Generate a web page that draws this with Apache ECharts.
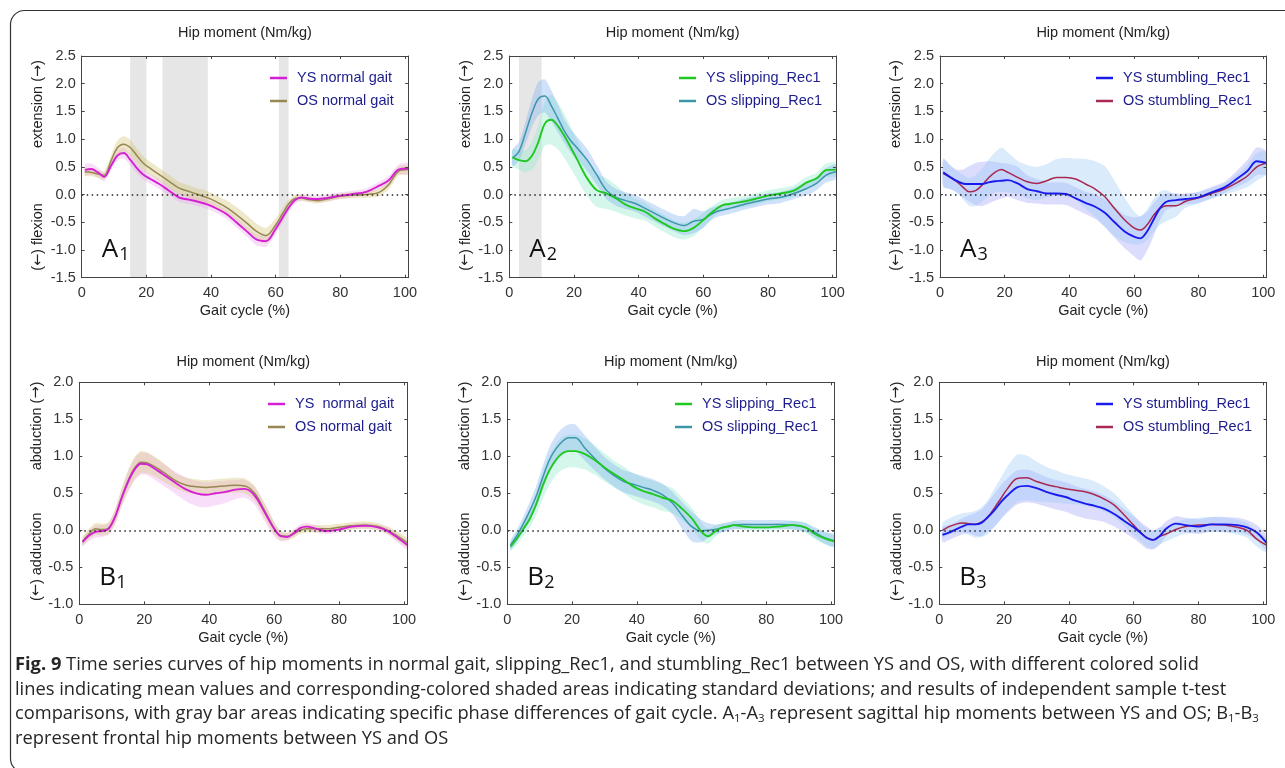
<!DOCTYPE html>
<html lang="en">
<head>
<meta charset="UTF-8">
<title>Hip moments</title>
<script src="https://cdn.jsdelivr.net/npm/echarts@6/dist/echarts.min.js"></script>
<style>
  body { margin: 0; background: #fff; }
  #main { width: 1285px; height: 768px; }
  #caption { position: absolute; left: 15px; top: 651px; font-family: "Open Sans"; font-size: 18.3px;
             line-height: 24.7px; color: #262626; white-space: nowrap; }
  #caption sub { font-size: 11.5px; line-height: 0; vertical-align: -3px; }
</style>
</head>
<body>
<div id="main"></div>
<div id="caption"><b>Fig. 9</b> Time series curves of hip moments in normal gait, slipping_Rec1, and stumbling_Rec1 between YS and OS, with different colored solid<br>lines indicating mean values and corresponding-colored shaded areas indicating standard deviations; and results of independent sample t-test<br>comparisons, with gray bar areas indicating specific phase differences of gait cycle. A<sub>1</sub>-A<sub>3</sub> represent sagittal hip moments between YS and OS; B<sub>1</sub>-B<sub>3</sub><br>represent frontal hip moments between YS and OS</div>
<script>
  // gait cycle sample points (%)
  var gait = [1,3,5,7,9,11,13,15,17,19,21,24,27,30,33,36,39,42,45,48,51,54,57,60,62,64,66,68,70,73,76,80,84,88,92,95,98,101];

  // A1 sagittal, normal gait
  var ysNormalSag   = [0.445,0.46,0.40,0.32,0.51,0.70,0.75,0.63,0.48,0.36,0.29,0.19,0.07,-0.05,-0.09,-0.13,-0.18,-0.26,-0.36,-0.51,-0.66,-0.81,-0.84,-0.62,-0.43,-0.24,-0.10,-0.05,-0.07,-0.08,-0.06,-0.02,0.01,0.05,0.16,0.26,0.45,0.47];
  var ysNormalSagSd = [0.1,0.1,0.09,0.08,0.08,0.09,0.1,0.1,0.09,0.09,0.09,0.09,0.08,0.08,0.08,0.08,0.08,0.08,0.08,0.09,0.09,0.1,0.1,0.1,0.09,0.08,0.07,0.06,0.06,0.06,0.06,0.06,0.06,0.06,0.07,0.08,0.09,0.1];
  var osNormalSag   = [0.41,0.40,0.37,0.35,0.60,0.84,0.91,0.85,0.71,0.57,0.48,0.36,0.24,0.12,0.06,0.00,-0.06,-0.14,-0.24,-0.37,-0.51,-0.66,-0.74,-0.55,-0.36,-0.17,-0.07,-0.06,-0.09,-0.11,-0.08,-0.03,-0.01,0.00,0.04,0.18,0.42,0.45];
  var osNormalSagSd = [0.07,0.07,0.07,0.07,0.1,0.13,0.14,0.14,0.13,0.12,0.12,0.12,0.12,0.11,0.11,0.11,0.12,0.12,0.13,0.14,0.14,0.14,0.14,0.12,0.1,0.08,0.06,0.05,0.05,0.05,0.05,0.05,0.05,0.06,0.07,0.08,0.08,0.08];

  // A2 sagittal, slipping_Rec1
  var ysSlipSag   = [0.67,0.62,0.60,0.70,0.95,1.28,1.35,1.24,1.06,0.85,0.63,0.30,0.08,0.02,-0.07,-0.18,-0.25,-0.31,-0.43,-0.53,-0.62,-0.66,-0.60,-0.46,-0.35,-0.26,-0.19,-0.17,-0.15,-0.12,-0.08,-0.02,0.02,0.07,0.22,0.29,0.44,0.45];
  var ysSlipSagSd = [0.15,0.17,0.2,0.25,0.32,0.4,0.45,0.42,0.4,0.38,0.36,0.32,0.3,0.28,0.24,0.2,0.18,0.16,0.15,0.15,0.15,0.15,0.15,0.13,0.12,0.1,0.1,0.1,0.1,0.1,0.1,0.1,0.1,0.1,0.1,0.1,0.12,0.12];
  var osSlipSag   = [0.66,0.78,1.11,1.47,1.73,1.78,1.60,1.38,1.15,0.97,0.84,0.63,0.36,0.08,-0.05,-0.11,-0.16,-0.25,-0.34,-0.43,-0.51,-0.56,-0.48,-0.45,-0.37,-0.31,-0.28,-0.25,-0.22,-0.17,-0.13,-0.08,-0.05,0.02,0.11,0.20,0.35,0.41];
  var osSlipSagSd = [0.15,0.17,0.2,0.25,0.3,0.3,0.28,0.25,0.22,0.21,0.2,0.2,0.18,0.16,0.15,0.15,0.15,0.15,0.15,0.15,0.15,0.17,0.22,0.15,0.12,0.1,0.1,0.1,0.1,0.1,0.1,0.1,0.1,0.1,0.12,0.12,0.13,0.13];

  // A3 sagittal, stumbling_Rec1
  var ysStumbSag   = [0.40,0.32,0.25,0.20,0.19,0.19,0.19,0.22,0.24,0.25,0.26,0.20,0.10,0.06,0.02,0.02,0.01,-0.07,-0.15,-0.22,-0.33,-0.50,-0.66,-0.76,-0.79,-0.67,-0.46,-0.25,-0.13,-0.10,-0.08,-0.05,0.04,0.13,0.29,0.42,0.60,0.57];
  var ysStumbSagSd = [0.25,0.22,0.2,0.25,0.32,0.38,0.4,0.38,0.35,0.32,0.3,0.3,0.25,0.22,0.2,0.2,0.2,0.2,0.2,0.22,0.25,0.28,0.3,0.35,0.4,0.35,0.3,0.22,0.15,0.12,0.1,0.1,0.1,0.1,0.15,0.2,0.25,0.2];
  var osStumbSag   = [0.38,0.32,0.24,0.14,0.05,0.07,0.17,0.30,0.40,0.45,0.40,0.31,0.23,0.20,0.25,0.31,0.31,0.28,0.19,0.10,-0.04,-0.25,-0.45,-0.60,-0.64,-0.55,-0.38,-0.25,-0.20,-0.20,-0.12,-0.06,0.02,0.10,0.22,0.33,0.50,0.57];
  var osStumbSagSd = [0.25,0.22,0.2,0.22,0.25,0.28,0.3,0.33,0.36,0.4,0.36,0.3,0.3,0.3,0.3,0.33,0.35,0.37,0.45,0.5,0.55,0.5,0.4,0.3,0.25,0.28,0.3,0.3,0.28,0.2,0.12,0.1,0.1,0.1,0.15,0.2,0.25,0.2];

  // B1 frontal, normal gait
  var ysNormalFro   = [-0.16,-0.07,-0.02,-0.01,0.02,0.18,0.43,0.65,0.82,0.90,0.89,0.81,0.72,0.63,0.55,0.50,0.48,0.50,0.52,0.55,0.56,0.47,0.25,0.02,-0.08,-0.09,-0.04,0.03,0.05,0.02,-0.01,0.01,0.05,0.06,0.04,-0.01,-0.10,-0.20];
  var ysNormalFroSd = [0.05,0.07,0.08,0.08,0.08,0.1,0.12,0.14,0.15,0.15,0.15,0.15,0.15,0.15,0.16,0.17,0.17,0.16,0.15,0.13,0.12,0.12,0.12,0.1,0.07,0.05,0.05,0.05,0.05,0.05,0.04,0.04,0.04,0.04,0.04,0.05,0.06,0.06];
  var osNormalFro   = [-0.15,-0.05,0.02,0.01,0.03,0.18,0.44,0.67,0.84,0.92,0.91,0.84,0.75,0.66,0.61,0.59,0.58,0.59,0.60,0.61,0.60,0.50,0.27,0.03,-0.07,-0.08,-0.05,0.00,0.02,0.02,0.02,0.04,0.06,0.07,0.05,0.00,-0.08,-0.17];
  var osNormalFroSd = [0.06,0.07,0.08,0.08,0.08,0.1,0.12,0.14,0.15,0.15,0.14,0.13,0.12,0.1,0.1,0.1,0.1,0.1,0.1,0.1,0.1,0.1,0.1,0.08,0.06,0.05,0.05,0.05,0.05,0.05,0.05,0.05,0.05,0.05,0.05,0.05,0.06,0.06];

  // B2 frontal, slipping_Rec1
  var ysSlipFro   = [-0.22,-0.11,0.02,0.16,0.36,0.61,0.81,0.95,1.04,1.07,1.07,1.03,0.95,0.85,0.76,0.68,0.59,0.53,0.49,0.44,0.40,0.29,0.16,-0.02,-0.08,-0.02,0.03,0.05,0.07,0.05,0.04,0.04,0.05,0.07,0.04,-0.05,-0.11,-0.15];
  var ysSlipFroSd = [0.06,0.08,0.1,0.12,0.15,0.18,0.2,0.21,0.22,0.22,0.22,0.21,0.2,0.19,0.18,0.18,0.18,0.18,0.18,0.18,0.17,0.15,0.14,0.12,0.1,0.08,0.06,0.05,0.05,0.05,0.05,0.05,0.05,0.06,0.07,0.07,0.08,0.08];
  var osSlipFro   = [-0.20,-0.07,0.09,0.27,0.47,0.72,0.95,1.10,1.20,1.25,1.25,1.11,0.97,0.84,0.74,0.66,0.62,0.58,0.54,0.48,0.37,0.20,0.05,-0.01,0.00,0.01,0.03,0.05,0.07,0.08,0.08,0.08,0.08,0.07,0.04,-0.03,-0.10,-0.14];
  var osSlipFroSd = [0.06,0.08,0.1,0.12,0.14,0.16,0.17,0.18,0.18,0.18,0.18,0.17,0.16,0.15,0.15,0.15,0.15,0.15,0.15,0.15,0.15,0.18,0.2,0.15,0.1,0.07,0.06,0.06,0.06,0.06,0.06,0.06,0.06,0.06,0.06,0.07,0.08,0.08];

  // B3 frontal, stumbling_Rec1
  var ysStumbFro   = [-0.06,-0.03,0.01,0.05,0.08,0.08,0.10,0.18,0.27,0.38,0.47,0.58,0.60,0.57,0.52,0.48,0.45,0.40,0.36,0.33,0.29,0.22,0.13,0.04,-0.03,-0.10,-0.13,-0.08,0.02,0.09,0.07,0.05,0.08,0.08,0.07,0.04,-0.03,-0.17];
  var ysStumbFroSd = [0.1,0.1,0.1,0.11,0.12,0.15,0.18,0.2,0.22,0.23,0.23,0.23,0.22,0.21,0.2,0.2,0.2,0.2,0.2,0.19,0.18,0.17,0.16,0.15,0.15,0.15,0.13,0.12,0.1,0.1,0.1,0.1,0.1,0.1,0.1,0.1,0.1,0.1];
  var osStumbFro   = [0.00,0.05,0.08,0.10,0.09,0.08,0.11,0.18,0.30,0.43,0.56,0.70,0.71,0.66,0.62,0.59,0.56,0.54,0.52,0.48,0.42,0.34,0.21,0.07,-0.02,-0.10,-0.13,-0.08,-0.05,0.01,0.05,0.07,0.08,0.07,0.04,0.00,-0.12,-0.20];
  var osStumbFroSd = [0.1,0.11,0.12,0.13,0.15,0.18,0.2,0.23,0.26,0.28,0.3,0.32,0.3,0.27,0.24,0.22,0.2,0.19,0.18,0.18,0.17,0.16,0.15,0.14,0.12,0.12,0.12,0.11,0.1,0.1,0.1,0.1,0.1,0.1,0.1,0.1,0.1,0.1];

  // significant phase differences (t-test), gray bars
  var sigA1 = [[15, 20], [25, 39], [61, 64]];
  var sigA2 = [[3, 10]];

  var font = 'Liberation Sans';
  var axisColor = '#444';

  var panels = [
    {left: 81.7, top: 56, width: 326.5, height: 221.7, ymin: -1.5, ymax: 2.5, up: 'extension ({a|\u2192})', down: '({a|\u2190}) flexion',
     letter: 'A', sub: '1', sig: sigA1, leg: [270, 70.5],
     ys: {name: 'YS normal gait', m: ysNormalSag, sd: ysNormalSagSd, c: '#d41fd4', band: 'rgba(236,160,236,0.35)'},
     os: {name: 'OS normal gait', m: osNormalSag, sd: osNormalSagSd, c: '#978852', band: 'rgba(212,196,120,0.38)'}},
    {left: 509.3, top: 56, width: 326.6, height: 221.7, ymin: -1.5, ymax: 2.5, up: 'extension ({a|\u2192})', down: '({a|\u2190}) flexion',
     letter: 'A', sub: '2', sig: sigA2, leg: [679, 70.5],
     ys: {name: 'YS slipping_Rec1', m: ysSlipSag, sd: ysSlipSagSd, c: '#1ec81e', band: 'rgba(150,236,205,0.4)'},
     os: {name: 'OS slipping_Rec1', m: osSlipSag, sd: osSlipSagSd, c: '#3b96aa', band: 'rgba(120,168,240,0.35)'}},
    {left: 940, top: 56, width: 326.5, height: 221.7, ymin: -1.5, ymax: 2.5, up: 'extension ({a|\u2192})', down: '({a|\u2190}) flexion',
     letter: 'A', sub: '3', sig: [], leg: [1096, 70.5],
     ys: {name: 'YS stumbling_Rec1', m: ysStumbSag, sd: ysStumbSagSd, c: '#1a1aee', band: 'rgba(130,130,245,0.28)'},
     os: {name: 'OS stumbling_Rec1', m: osStumbSag, sd: osStumbSagSd, c: '#a8284f', band: 'rgba(150,200,245,0.35)'}},
    {left: 79.3, top: 382.3, width: 328, height: 222, ymin: -1, ymax: 2, up: 'abduction ({a|\u2192})', down: '({a|\u2190}) adduction',
     letter: 'B', sub: '1', sig: [], leg: [268, 396.5],
     ys: {name: 'YS  normal gait', m: ysNormalFro, sd: ysNormalFroSd, c: '#d41fd4', band: 'rgba(236,160,236,0.35)'},
     os: {name: 'OS normal gait ', m: osNormalFro, sd: osNormalFroSd, c: '#978852', band: 'rgba(212,196,120,0.38)'}},
    {left: 507.3, top: 382.3, width: 327, height: 222, ymin: -1, ymax: 2, up: 'abduction ({a|\u2192})', down: '({a|\u2190}) adduction',
     letter: 'B', sub: '2', sig: [], leg: [675, 396.5],
     ys: {name: 'YS slipping_Rec1 ', m: ysSlipFro, sd: ysSlipFroSd, c: '#1ec81e', band: 'rgba(150,236,205,0.4)'},
     os: {name: 'OS slipping_Rec1 ', m: osSlipFro, sd: osSlipFroSd, c: '#3b96aa', band: 'rgba(120,168,240,0.35)'}},
    {left: 939.3, top: 382.3, width: 327.2, height: 222, ymin: -1, ymax: 2, up: 'abduction ({a|\u2192})', down: '({a|\u2190}) adduction',
     letter: 'B', sub: '3', sig: [], leg: [1096, 396.5],
     ys: {name: 'YS stumbling_Rec1 ', m: ysStumbFro, sd: ysStumbFroSd, c: '#1a1aee', band: 'rgba(130,130,245,0.28)'},
     os: {name: 'OS stumbling_Rec1 ', m: osStumbFro, sd: osStumbFroSd, c: '#a8284f', band: 'rgba(150,200,245,0.35)'}}
  ];

  var grids = [], xAxes = [], yAxes = [], series = [], legends = [], graphics = [];

  function lineOf(m) {
    return gait.map(function (x, i) { return [x, m[i]]; });
  }

  function band(p, s) {
    return {
      type: 'custom', name: 'band' + p + s.name, xAxisIndex: 2 * p, yAxisIndex: 2 * p,
      silent: true, clip: true, z: 2, animation: false,
      data: gait.map(function (x, i) { return [x, s.m[i] - s.sd[i], s.m[i] + s.sd[i]]; }),
      encode: {x: 0, y: [1, 2]},
      renderItem: function (params, api) {
        if (params.dataIndex !== 0) return null;
        var up = [], lo = [];
        for (var i = 0; i < gait.length; i++) {
          up.push(api.coord([gait[i], s.m[i] + s.sd[i]]));
          lo.unshift(api.coord([gait[i], s.m[i] - s.sd[i]]));
        }
        return {type: 'polygon', shape: {points: up.concat(lo), smooth: 0.25}, style: {fill: s.band}};
      }
    };
  }

  panels.forEach(function (pn, p) {
    grids.push({left: pn.left, top: pn.top, width: pn.width, height: pn.height});

    var xBase = {
      gridIndex: p, type: 'value', min: 0, max: 101, interval: 20, z: 5,
      splitLine: {show: false},
      axisLine: {show: true, onZero: false, lineStyle: {color: axisColor, width: 1}},
      axisTick: {show: true, inside: true, length: 3, lineStyle: {color: axisColor}}
    };
    xAxes.push(Object.assign({}, xBase, {
      position: 'bottom',
      axisLabel: {margin: 8, fontSize: 14.5, color: '#333', fontFamily: font,
        formatter: function (v) { return v % 20 === 0 ? String(v) : ''; }},
      name: 'Gait cycle (%)', nameLocation: 'middle', nameGap: 26,
      nameTextStyle: {fontSize: 14.5, color: '#222', fontFamily: font}
    }));
    xAxes.push(Object.assign({}, xBase, {position: 'top', axisLabel: {show: false}}));

    var yBase = {
      gridIndex: p, type: 'value', min: pn.ymin, max: pn.ymax, interval: 0.5, z: 5,
      splitLine: {show: false},
      axisLine: {show: true, onZero: false, lineStyle: {color: axisColor, width: 1}},
      axisTick: {show: true, inside: true, length: 3, lineStyle: {color: axisColor}}
    };
    yAxes.push(Object.assign({}, yBase, {
      position: 'left',
      axisLabel: {margin: 6, fontSize: 14.5, color: '#333', fontFamily: font,
        formatter: function (v) { return v.toFixed(1); }}
    }));
    yAxes.push(Object.assign({}, yBase, {position: 'right', axisLabel: {show: false}}));

    // gray bars for significant phases
    series.push({
      type: 'line', name: 'sig' + p, xAxisIndex: 2 * p, yAxisIndex: 2 * p, z: 1,
      data: lineOf(pn.ys.m), symbol: 'none', lineStyle: {opacity: 0}, silent: true,
      markArea: {
        silent: true, itemStyle: {color: '#e6e6e6'},
        data: pn.sig.map(function (r) { return [{xAxis: r[0]}, {xAxis: r[1]}]; })
      }
    });

    series.push(band(p, pn.ys));
    series.push(band(p, pn.os));

    [pn.os, pn.ys].forEach(function (s, k) {
      var ser = {
        type: 'line', name: s.name, xAxisIndex: 2 * p, yAxisIndex: 2 * p, z: 3 + k,
        data: lineOf(s.m), smooth: 0.35, symbol: 'none', color: s.c,
        lineStyle: {color: s.c, width: k === 1 ? 1.9 : 1.5}
      };
      if (k === 1) {
        ser.markLine = {
          silent: true, symbol: 'none', label: {show: false}, animation: false,
          lineStyle: {type: [1.5, 3.5], color: '#222', width: 1.5},
          data: [{yAxis: 0}]
        };
      }
      series.push(ser);
    });

    legends.push({
      orient: 'vertical', left: pn.leg[0], top: pn.leg[1], padding: 0,
      itemWidth: 17, itemHeight: 2.5, itemGap: 8, icon: 'rect', selectedMode: false,
      textStyle: {fontSize: 14.5, color: '#1c1c8c', fontFamily: font, padding: [0, 0, 0, 5]},
      data: [pn.ys.name, pn.os.name]
    });

    var cx = pn.left + pn.width / 2;
    var row = pn.top < 200 ? 0 : 1;
    graphics.push({type: 'text', x: cx, y: row ? 361.7 : 33, z: 10,
      style: {text: 'Hip moment (Nm/kg)', font: '14.5px "' + font + '"', fill: '#222', align: 'center', verticalAlign: 'middle'}});

    var nx = pn.left - (row ? 42.6 : 43.7);
    var arrowRich = {a: {fontFamily: 'DejaVu Sans', fontSize: 14.5, fill: '#222'}};
    graphics.push({type: 'text', x: nx, y: row ? 426 : 104, rotation: Math.PI / 2, z: 10,
      style: {text: pn.up, font: '14.5px "' + font + '"', fill: '#222', align: 'center', verticalAlign: 'middle', rich: arrowRich}});
    graphics.push({type: 'text', x: nx, y: row ? 556.7 : 237, rotation: Math.PI / 2, z: 10,
      style: {text: pn.down, font: '14.5px "' + font + '"', fill: '#222', align: 'center', verticalAlign: 'middle', rich: arrowRich}});

    var lx = pn.left + 20, ly = row ? 578 : 250;
    graphics.push({type: 'text', x: lx, y: ly, z: 10,
      style: {text: pn.letter, font: '26px "Open Sans"', fill: '#111', align: 'left', verticalAlign: 'middle'}});
    graphics.push({type: 'text', x: lx + (pn.letter === 'A' ? 17.5 : 17), y: ly + 5, z: 10,
      style: {text: pn.sub, font: '18px "Open Sans"', fill: '#111', align: 'left', verticalAlign: 'middle'}});
  });

  // figure frame
  graphics.push({type: 'rect', z: 20, silent: true,
    shape: {x: 10.5, y: 10.5, width: 1300, height: 762, r: 14},
    style: {fill: 'none', stroke: '#333', lineWidth: 1.2}});

  var myChart = echarts.init(document.getElementById('main'));
  myChart.setOption({
    animation: false,
    backgroundColor: '#fff',
    grid: grids,
    xAxis: xAxes,
    yAxis: yAxes,
    legend: legends,
    series: series,
    graphic: graphics
  });
</script>
</body>
</html>
